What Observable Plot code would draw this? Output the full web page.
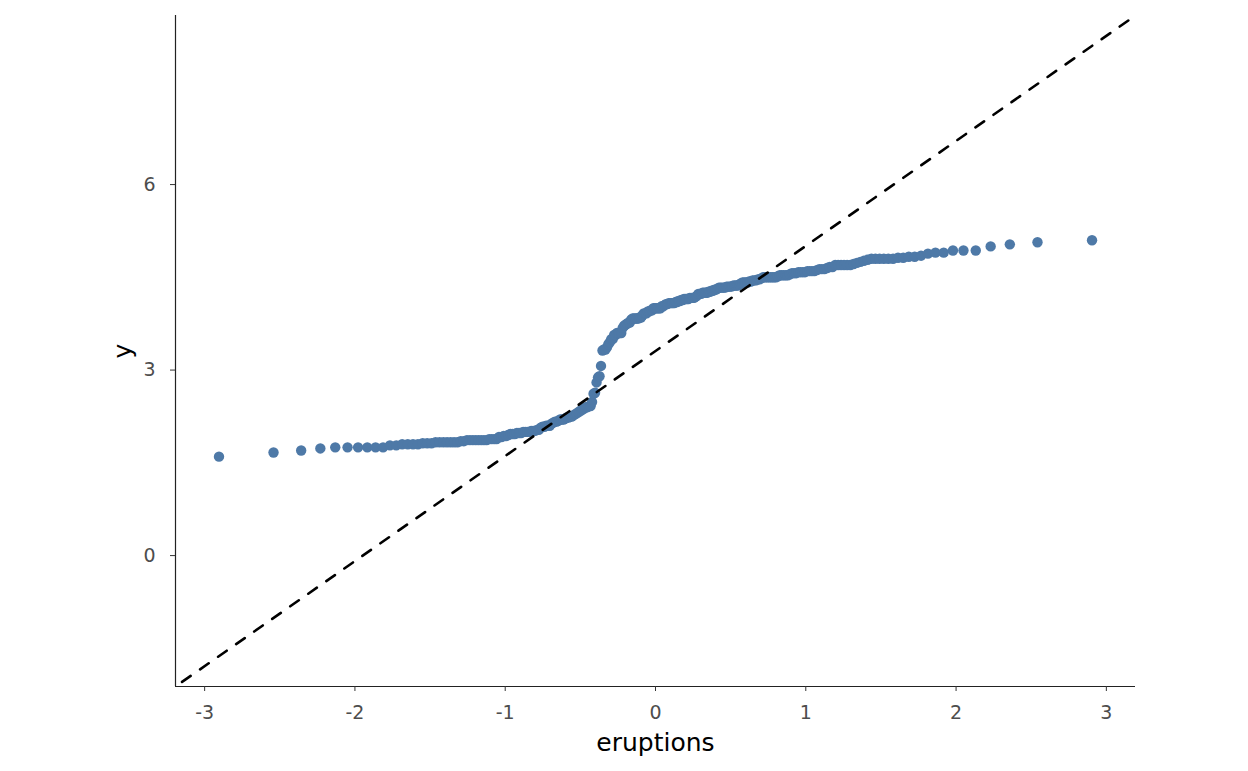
<!DOCTYPE html>
<html>
<head>
<meta charset="utf-8">
<script src="https://cdn.jsdelivr.net/npm/d3@7"></script>
<script src="https://cdn.jsdelivr.net/npm/@observablehq/plot@0.6"></script>
<style>
  body { margin: 0; background: #fff; }
  #chart svg { font-family: "DejaVu Sans", sans-serif; }
</style>
</head>
<body>
<div id="chart"></div>
<script>
// Old Faithful eruption durations (minutes)
const eruptions = [3.600,1.800,3.333,2.283,4.533,2.883,4.700,3.600,1.950,4.350,1.833,3.917,4.200,1.750,4.700,2.167,1.750,4.800,1.600,4.250,1.800,1.750,3.450,3.067,4.533,3.600,1.967,4.083,3.850,4.433,4.300,4.467,3.367,4.033,3.833,2.017,1.867,4.833,1.833,4.783,4.350,1.883,4.567,1.750,4.533,3.317,3.833,2.100,4.633,2.000,4.800,4.716,1.833,4.833,1.733,4.883,3.717,1.667,4.567,4.317,2.233,4.500,1.750,4.800,1.817,4.400,4.167,4.700,2.067,4.700,4.033,1.967,4.500,4.000,1.983,5.067,2.017,4.567,3.883,3.600,4.133,4.333,4.100,2.633,4.067,4.933,3.950,4.517,2.167,4.000,2.200,4.333,1.867,4.817,1.833,4.300,4.667,3.750,1.867,4.900,2.483,4.367,2.100,4.500,4.050,1.867,4.700,1.783,4.850,3.683,4.733,2.300,4.900,4.417,1.700,4.633,2.317,4.600,1.817,4.417,2.617,4.067,4.250,1.967,4.600,3.767,1.917,4.500,2.267,4.650,1.867,4.167,2.800,4.333,1.833,4.383,1.883,4.933,2.033,3.733,4.233,2.233,4.533,4.817,4.333,1.983,4.633,2.017,5.100,1.800,5.033,4.000,2.400,4.600,3.567,4.000,4.500,4.083,1.800,3.967,2.200,4.150,2.000,3.833,3.500,4.583,2.367,5.000,1.933,4.617,1.917,2.083,4.583,3.333,4.167,4.333,4.500,2.417,4.000,4.167,1.883,4.583,4.250,3.767,2.033,4.433,4.083,1.833,4.417,2.183,4.800,1.833,4.800,4.100,3.966,4.233,3.500,4.366,2.250,4.667,2.100,4.350,4.133,1.867,4.600,1.783,4.367,3.850,1.933,4.500,2.383,4.700,1.867,3.833,3.417,4.233,2.400,4.800,2.000,4.150,1.867,4.267,1.750,4.483,4.000,4.117,4.083,4.267,3.917,4.550,4.083,2.417,4.183,2.217,4.450,1.883,1.850,4.283,3.950,2.333,4.150,2.350,4.933,2.900,4.583,3.833,2.083,4.367,2.133,4.350,2.200,4.450,3.567,4.500,4.150,3.817,3.917,4.450,2.000,4.283,4.767,4.533,1.850,4.250,1.983,2.250,4.750,4.117,2.150,4.417,1.817,4.467];

const xTicks = [-3, -2, -1, 0, 1, 2, 3];
const yTicks = [0, 3, 6];
const xDomain = [-3.194, 3.194];
const yDomain = [-2.117, 8.734];

// inverse normal CDF (Acklam) for theoretical quantiles, as stat_qq does
function qnorm(p) {
  const a = [-3.969683028665376e+01, 2.209460984245205e+02, -2.759285104469687e+02, 1.383577518672690e+02, -3.066479806614716e+01, 2.506628277459239e+00];
  const b = [-5.447609879822406e+01, 1.615858368580409e+02, -1.556989798598866e+02, 6.680131188771972e+01, -1.328068155288572e+01];
  const c = [-7.784894002430293e-03, -3.223964580411365e-01, -2.400758277161838e+00, -2.549732539343734e+00, 4.374664141464968e+00, 2.938163982698783e+00];
  const d = [7.784695709041462e-03, 3.224671290700398e-01, 2.445134137142996e+00, 3.754408661907416e+00];
  const pl = 0.02425;
  let q, r;
  if (p < pl) {
    q = Math.sqrt(-2 * Math.log(p));
    return (((((c[0]*q+c[1])*q+c[2])*q+c[3])*q+c[4])*q+c[5]) / ((((d[0]*q+d[1])*q+d[2])*q+d[3])*q+1);
  } else if (p <= 1 - pl) {
    q = p - 0.5; r = q * q;
    return (((((a[0]*r+a[1])*r+a[2])*r+a[3])*r+a[4])*r+a[5])*q / (((((b[0]*r+b[1])*r+b[2])*r+b[3])*r+b[4])*r+1);
  } else {
    q = Math.sqrt(-2 * Math.log(1 - p));
    return -(((((c[0]*q+c[1])*q+c[2])*q+c[3])*q+c[4])*q+c[5]) / ((((d[0]*q+d[1])*q+d[2])*q+d[3])*q+1);
  }
}

const sorted = eruptions.slice().sort(d3.ascending);
const n = sorted.length;
const qq = sorted.map((v, i) => ({theo: qnorm((i + 0.5) / n), y: v}));

// qq line through the quartiles
const q1 = d3.quantile(sorted, 0.25), q3 = d3.quantile(sorted, 0.75);
const slope = (q3 - q1) / (qnorm(0.75) - qnorm(0.25));
const intercept = q1 - slope * qnorm(0.25);
const line = xDomain.map(x => ({theo: x, y: intercept + slope * x}));

const chart = Plot.plot({
  width: 1248,
  height: 771,
  marginLeft: 175,
  marginRight: 113,
  marginTop: 15,
  marginBottom: 85,
  style: {fontFamily: "DejaVu Sans, sans-serif", background: "#fff"},
  x: {domain: xDomain},
  y: {domain: yDomain},
  marks: [
    Plot.dot(qq, {x: "theo", y: "y", r: 5.2, fill: "#4E79A7", stroke: "none"}),
    Plot.line(line, {x: "theo", y: "y", stroke: "black", strokeWidth: 2.6, strokeDasharray: "10.5,11.5", strokeDashoffset: -8, clip: true}),
    Plot.ruleX([xDomain[0]], {stroke: "#222", strokeWidth: 1.2}),
    Plot.ruleY([yDomain[0]], {stroke: "#222", strokeWidth: 1.2}),
    Plot.axisX({ticks: xTicks, tickFormat: d => String(d), tickSize: 5, tickPadding: 14, color: "#4D4D4D", stroke: "#333",
      label: "eruptions", labelAnchor: "center", labelArrow: "none", labelOffset: 64}),
    Plot.axisY({ticks: yTicks, tickFormat: d => String(d), tickSize: 5, tickPadding: 15, color: "#4D4D4D", stroke: "#333",
      label: "y", labelAnchor: "center", labelArrow: "none", labelOffset: 62})
  ]
});

const svg = d3.select(chart);
svg.selectAll("text").style("font-size", "19px");
svg.selectAll("[aria-label='x-axis label'] text, [aria-label='y-axis label'] text")
  .style("font-size", "25px").attr("fill", "#000");

d3.select('#chart').append(() => chart);
</script>
</body>
</html>
